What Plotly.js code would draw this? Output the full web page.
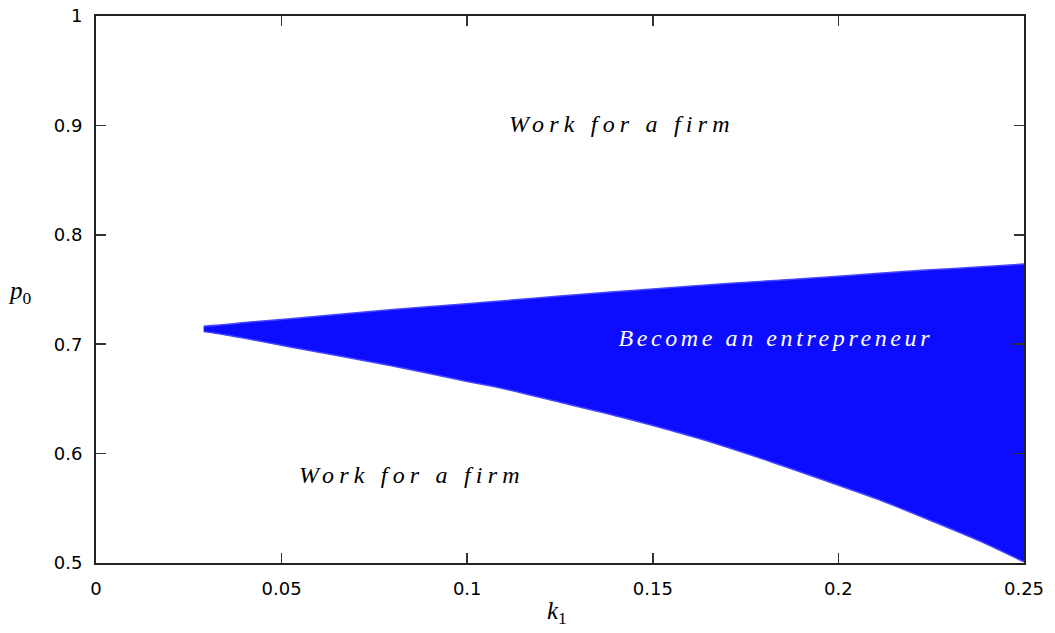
<!DOCTYPE html>
<html>
<head>
<meta charset="utf-8">
<script src="https://cdn.plot.ly/plotly-3.0.1.min.js"></script>
<style>
body{margin:0;padding:0;background:#fff;}
</style>
</head>
<body>
<div id="chart" style="width:1055px;height:633px;"></div>
<script>
// upper boundary of the entrepreneur region
const kUpper = [0.029, 0.035, 0.0415, 0.0523, 0.0792, 0.1, 0.109, 0.125, 0.15, 0.171, 0.2, 0.2166, 0.23, 0.25];
const p0Upper = [0.7165, 0.718, 0.7203, 0.7232, 0.7315, 0.737, 0.7395, 0.744, 0.7505, 0.7557, 0.762, 0.7663, 0.769, 0.7733];
// lower boundary of the entrepreneur region
const kLower = [0.029, 0.035, 0.0415, 0.0523, 0.0792, 0.1, 0.109, 0.125, 0.1439, 0.1627, 0.1816, 0.1977, 0.2112, 0.2247, 0.2381, 0.25];
const p0Lower = [0.7115, 0.7085, 0.7045, 0.6975, 0.6805, 0.666, 0.660, 0.6469, 0.6312, 0.6135, 0.5928, 0.5738, 0.5575, 0.539, 0.520, 0.501];

const xTicks = [0, 0.05, 0.1, 0.15, 0.2, 0.25];
const xTickLabels = ["0", "0.05", "0.1", "0.15", "0.2", "0.25"];
const yTicks = [0.5, 0.6, 0.7, 0.8, 0.9, 1];
const yTickLabels = ["0.5", "0.6", "0.7", "0.8", "0.9", "1"];

const labels = [
  {text: "Work for a firm", k: 0.1417, p: 0.901, color: "#000", spacing: "5.2px"},
  {text: "Work for a firm", k: 0.0851, p: 0.580, color: "#000", spacing: "5.2px"},
  {text: "Become an entrepreneur", k: 0.1832, p: 0.7057, color: "#fff", spacing: "3.6px"}
];

const edge = {color: "rgb(70,70,255)", width: 1.5, shape: "spline", smoothing: 0.8};
const upperTrace = {
  x: kUpper, y: p0Upper, type: "scatter", mode: "lines",
  line: edge, hoverinfo: "skip", showlegend: false
};
const lowerTrace = {
  x: kLower, y: p0Lower, type: "scatter", mode: "lines",
  fill: "tonexty", fillcolor: "rgb(12,12,255)",
  line: edge, hoverinfo: "skip", showlegend: false
};

const annotations = labels.map(l => ({
  x: l.k, y: l.p, xref: "x", yref: "y", text: "<i>" + l.text + "</i>",
  showarrow: false, xanchor: "center", yanchor: "middle",
  font: {family: "Liberation Serif, serif", size: 24, color: l.color}
}));
annotations.push({
  x: -0.0819, y: 0.4954, xref: "paper", yref: "paper", showarrow: false,
  text: "<i>p</i><sub>0</sub>", xanchor: "center", yanchor: "middle",
  font: {family: "Liberation Serif, serif", size: 25, color: "#000"}
});
annotations.push({
  x: 0.4968, y: -0.0896, xref: "paper", yref: "paper", showarrow: false,
  text: "<i>k</i><sub>1</sub>", xanchor: "center", yanchor: "middle",
  font: {family: "Liberation Serif, serif", size: 25, color: "#000"}
});

const axisCommon = {
  showgrid: false, zeroline: false, showline: true, linecolor: "#222", linewidth: 2,
  mirror: "ticks", ticks: "inside", ticklen: 10, tickwidth: 1.5, tickcolor: "#333",
  tickfont: {family: "DejaVu Sans, sans-serif", size: 18, color: "#000"},
  tickmode: "array"
};

const layout = {
  width: 1055, height: 633,
  margin: {l: 96, r: 31, t: 16, b: 70},
  paper_bgcolor: "#fff", plot_bgcolor: "#fff",
  xaxis: Object.assign({}, axisCommon, {range: [0, 0.25], tickvals: xTicks, ticktext: xTickLabels, ticklabelstandoff: 8}),
  yaxis: Object.assign({}, axisCommon, {range: [0.5, 1], tickvals: yTicks, ticktext: yTickLabels, ticklabelstandoff: 8}),
  annotations: annotations
};

Plotly.newPlot("chart", [upperTrace, lowerTrace], layout, {displayModeBar: false, staticPlot: true}).then(() => {
  const anns = document.querySelectorAll(".annotation");
  for (let i = 0; i < labels.length; i++) {
    const t = anns[i] && anns[i].querySelector("text.annotation-text");
    if (t) { t.style.letterSpacing = labels[i].spacing; }
  }
});
</script>
</body>
</html>
